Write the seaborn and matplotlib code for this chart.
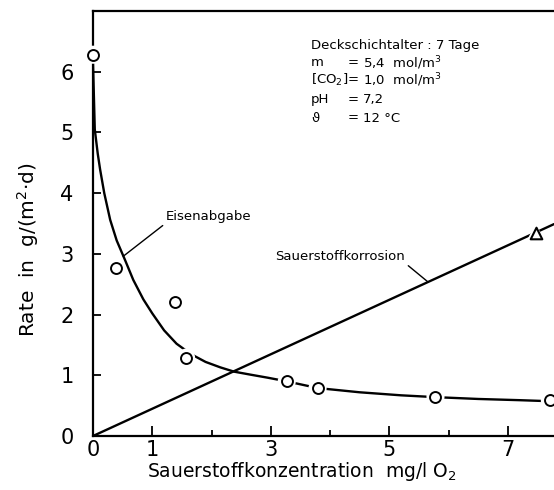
import matplotlib
matplotlib.use("Agg")
import matplotlib.pyplot as plt
import seaborn as sns

# Daten
# Messpunkte Eisenabgabe
eisen_x = [0.0, 0.39, 1.38, 1.57, 3.27, 3.79, 5.78, 7.71]
eisen_y = [6.28, 2.77, 2.21, 1.29, 0.90, 0.79, 0.65, 0.59]

# ausgeglichene Kurve Eisenabgabe
kurve_x = [0.00, 0.03, 0.08, 0.12, 0.19, 0.29, 0.40, 0.54, 0.68, 0.85, 1.00,
           1.20, 1.41, 1.65, 1.90, 2.15, 2.38, 2.66, 2.95, 3.27, 3.79, 4.50,
           5.20, 5.78, 6.50, 7.20, 7.80]
kurve_y = [6.15, 5.05, 4.65, 4.39, 4.00, 3.56, 3.22, 2.90, 2.57, 2.25, 2.02,
           1.74, 1.52, 1.35, 1.22, 1.13, 1.06, 1.01, 0.96, 0.90, 0.79, 0.72,
           0.67, 0.64, 0.61, 0.59, 0.57]

# Sauerstoffkorrosion
korr_x = [0.0, 7.78]
korr_y = [0.0, 3.49]
korr_punkt_x = [7.47]
korr_punkt_y = [3.35]

x_ticks = [0, 1, 3, 5, 7]
x_minor = [2, 4, 6]
y_ticks = [0, 1, 2, 3, 4, 5, 6]

kopf = "Deckschichtalter : 7 Tage"
param_namen = ["m", "[CO$_2$]", "pH", "ϑ"]
param_werte = ["5,4  mol/m$^3$", "1,0  mol/m$^3$", "7,2", "12 °C"]

# ====================================================
# Stil
# ====================================================
sns.set_style("ticks")
plt.rcParams["font.family"] = ["DejaVu Sans"]
plt.rcParams["text.color"] = "black"
plt.rcParams["axes.edgecolor"] = "black"
plt.rcParams["xtick.color"] = "black"
plt.rcParams["ytick.color"] = "black"

W, H = 554, 490
fig = plt.figure(figsize=(W / 100, H / 100), dpi=100)


def px(x, y):
    return x / W, 1 - y / H


x0, y0, x1, y1 = 93, 436, 554, 11
ax = fig.add_axes([x0 / W, 1 - y0 / H, (x1 - x0) / W, (y0 - y1) / H])

# Linien
sns.lineplot(x=kurve_x, y=kurve_y, color="black", lw=1.7, ax=ax,
             estimator=None, sort=False, zorder=2)
sns.lineplot(x=korr_x, y=korr_y, color="black", lw=1.7, ax=ax,
             estimator=None, sort=False, zorder=2)

# weisse Aussparung um die Marker
sns.scatterplot(x=eisen_x, y=eisen_y, marker="o", s=170, color="white",
                edgecolor="none", ax=ax, zorder=3, clip_on=False)
sns.scatterplot(x=korr_punkt_x, y=korr_punkt_y, marker="^", s=190,
                color="white", edgecolor="none", ax=ax, zorder=3)
sns.scatterplot(x=eisen_x, y=eisen_y, marker="o", s=62, facecolor="white",
                edgecolor="black", linewidth=1.4, ax=ax, zorder=4,
                clip_on=False)
sns.scatterplot(x=korr_punkt_x, y=korr_punkt_y, marker="^", s=70,
                facecolor="white", edgecolor="black", linewidth=1.5, ax=ax,
                zorder=4)

ax.set_xlim(0, 7.78)
ax.set_ylim(0, 7.0)
ax.set_xticks(x_ticks)
ax.set_xticks(x_minor, minor=True)
ax.set_yticks(y_ticks)
ax.tick_params(axis="x", which="major", direction="in", length=7, width=1.3,
               labelsize=15, pad=3)
ax.tick_params(axis="x", which="minor", direction="in", length=4, width=1.3)
ax.tick_params(axis="y", which="major", direction="in", length=6, width=1.3,
               labelsize=15, pad=14)
for s in ["left", "bottom", "top"]:
    ax.spines[s].set_linewidth(1.6)
ax.spines["right"].set_visible(False)
ax.set_xlabel("")
ax.set_ylabel("")

# Beschriftungen
fig.text(*px(302, 471), "Sauerstoffkonzentration  mg/l O$_2$", fontsize=13.5,
         ha="center", va="center")
fig.text(*px(28, 250), "Rate  in  g/(m$^2$·d)", fontsize=14.5, rotation=90,
         ha="center", va="center")

ax.annotate("Eisenabgabe", xy=(0.51, 2.96), xytext=px(166, 220),
            textcoords="figure fraction", fontsize=9.5, ha="left",
            va="baseline",
            arrowprops=dict(arrowstyle="-", color="black", lw=1.0,
                            relpos=(0, 0), shrinkA=0, shrinkB=0))
ax.annotate("Sauerstoffkorrosion", xy=(5.65, 2.54), xytext=px(405, 260),
            textcoords="figure fraction", fontsize=9.5, ha="right",
            va="baseline",
            arrowprops=dict(arrowstyle="-", color="black", lw=1.0,
                            relpos=(1, 0), shrinkA=0, shrinkB=0))

# Versuchsbedingungen
fig.text(*px(311, 46), kopf, fontsize=9.5, ha="left", va="center")
zeilen_y = [63, 80, 100, 118]
for name, wert, yy in zip(param_namen, param_werte, zeilen_y):
    fig.text(*px(311, yy), name, fontsize=9.5, ha="left", va="center")
    fig.text(*px(348, yy), "=", fontsize=9.5, ha="left", va="center")
    fig.text(*px(363, yy), wert, fontsize=9.5, ha="left", va="center")

fig.savefig("out.png", dpi=100)
